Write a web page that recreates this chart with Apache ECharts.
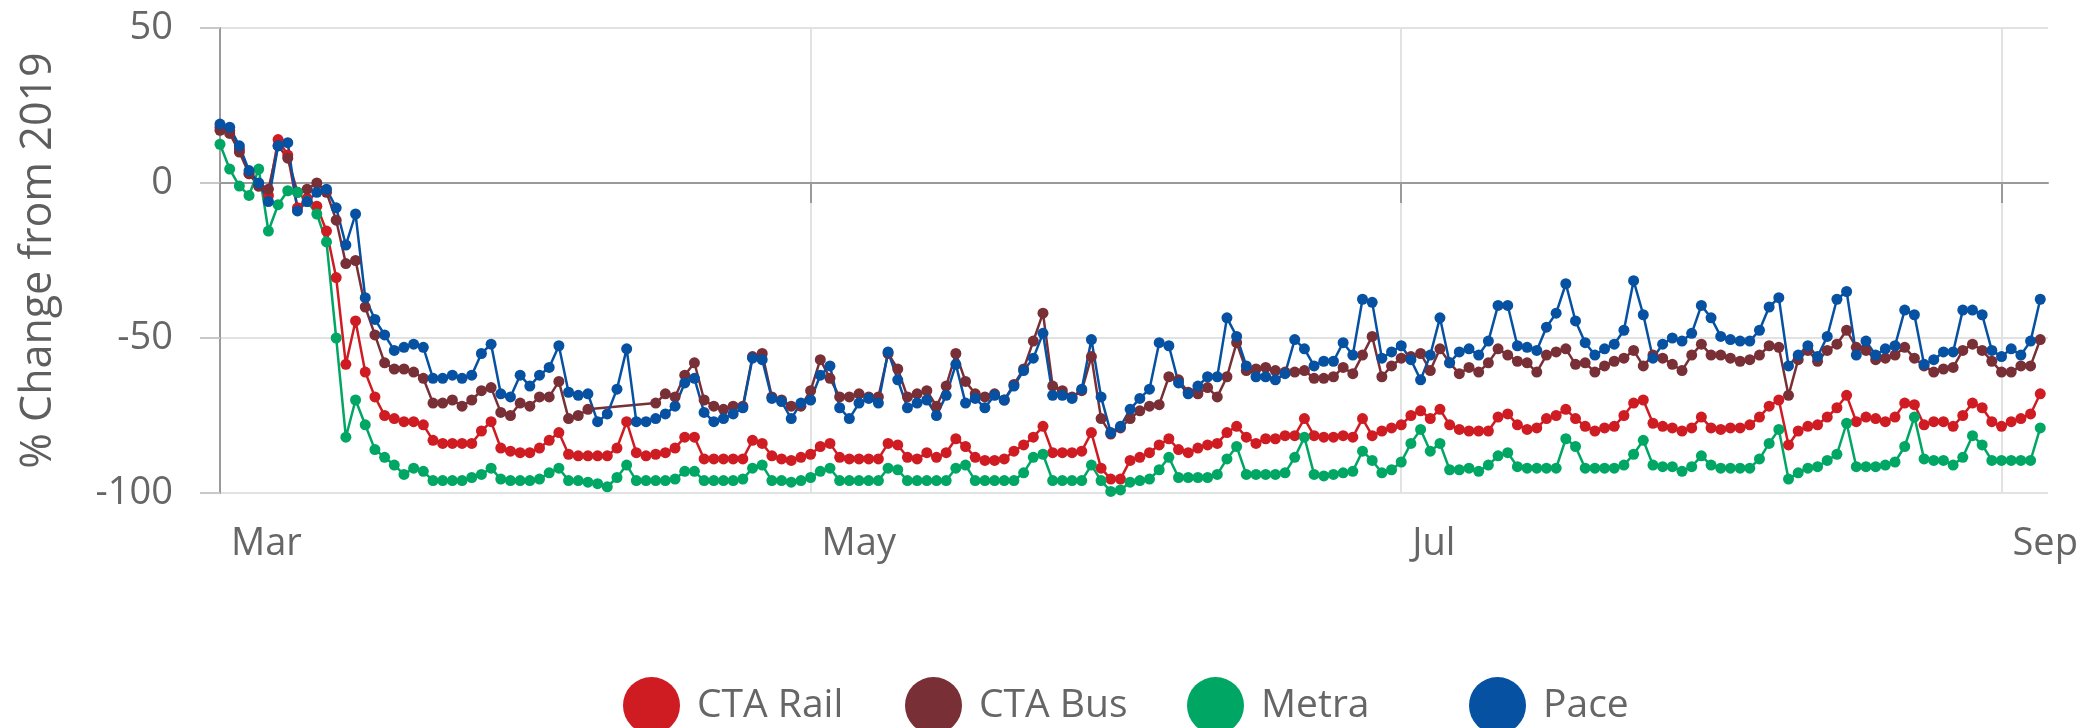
<!DOCTYPE html>
<html>
<head>
<meta charset="utf-8">
<script src="https://cdn.jsdelivr.net/npm/echarts@6/dist/echarts.min.js"></script>
<style>
  html, body { margin: 0; padding: 0; background: #fff; }
  #chart { width: 2086px; height: 728px; }
</style>
</head>
<body>
<div id="chart"></div>
<script>
// daily % change from 2019, one value per day; day 0 = Mar 1 2020
var tickDays = [0, 61, 122, 184];
var tickLabels = ['Mar', 'May', 'Jul', 'Sep'];
var seriesNames = ['CTA Rail', 'CTA Bus', 'Metra', 'Pace'];

var ctaRail = [
  18,17,11,3,-1,-4,14,9,-8,-5, -7.5,-15.5,-30.5,-58.5,-44.5,-61,-69,-75,-76,-77,
  -77,-78,-83,-84,-84,-84,-84,-80,-77,-85.5, -86.5,
  -87,-87,-85.5,-83,-80.5,-87.5,-88,-88,-88,-88, -85.5,-77,-87,-88,-87.5,-87,-85.5,-82,-82,-89,
  -89,-89,-89,-89,-83,-84,-88,-89,-89.5,-88.5, -87.5,
  -85,-84,-88.5,-89,-89,-89,-89,-84,-84.5,-88.5, -89,-87,-88.5,-87,-82.5,-85,-88.5,-89.5,-89.5,-89,
  -86.5,-84.5,-82,-78.5,-87,-87,-87,-86.5,-80.5,-92, -95.5,
  -95.5,-89.5,-88.5,-87,-84.5,-82.5,-86,-87,-85.5,-84.5, -84,-80.5,-78.5,-82,-84,-82.5,-82.5,-81.5,-81.5,-76,
  -81.5,-82,-82,-81.5,-82,-76,-81.5,-80,-79,-78,
  -75,-73.5,-76,-73,-78,-79.5,-80,-80,-80,-75.5, -74.5,-78,-79.5,-79,-76,-75,-73,-76,-78.5,-80,
  -79,-78.5,-75,-71,-70,-77.5,-78.5,-79,-80,-79, -75.5,-79,
  -79.5,-79,-79,-78,-75.5,-72,-70,-84.5,-80,-78.5, -78,-75.5,-72.5,-68.5,-77,-75.5,-76,-77,-75.5,-71,
  -71.5,-78,-77,-77,-78.5,-75,-71,-72.5,-77,-78.5, -77,-76,-74.5,-68
];

var ctaBus = [
  17,16,10,3,-1,-2,12,8,-3,-2, 0,-3,-12,-26,-25,-40,-49,-58,-60,-60,
  -61,-63,-71,-71,-70,-72,-70,-67,-66,-74, -75,
  -71,-72,-69,-69,-64,-76,-75,-73,null,null, null,null,null,null,-71,-68,-69,-62,-58,-70,
  -72,-73,-72,-72,-56,-55,-69,-70,-72,-72, -67,
  -57,-63,-69,-69,-68,-69,-69,-55,-60,-69, -68,-67,-72,-65.5,-55,-64,-68,-69,-68,-70,
  -65,-60,-51,-42,-65.5,-67,-69,-67,-56,-76, -81,
  -79,-76,-73.5,-72,-71.5,-62.5,-63.5,-67.5,-68,-66, -69,-62.5,-51.5,-60.5,-60,-59.5,-60.5,-61,-61,-60.5,
  -63,-63,-62.5,-59.5,-61.5,-55.5,-49.5,-62.5,-59,-56.5,
  -56,-55,-60.5,-53.5,-58,-61.5,-59.5,-61,-58,-53.5, -55.5,-57.5,-58,-61,-55.5,-54.5,-53.5,-58.5,-58,-61,
  -59,-57.5,-56.5,-54,-59,-55.5,-56.5,-58.5,-60.5,-55.5, -52,-55.5,
  -55.5,-56.5,-57.5,-57,-55.5,-52.5,-53,-68.5,-57,-54, -57.5,-54,-52,-47.5,-53,-54,-57,-56.5,-55.5,-53,
  -56.5,-59,-61,-60,-59.5,-54,-52,-54,-57.5,-61, -61,-59,-59,-50.5
];

var metra = [
  12.5,4.5,-1,-4,4.5,-15.5,-7,-2.5,-3,-6, -10,-19,-50,-82,-70,-78,-86,-88.5,-91,-94,
  -92,-93,-96,-96,-96,-96,-95,-94,-92,-95.5, -96,
  -96,-96,-95.5,-93.5,-92,-96,-96,-96.5,-97,-98, -95,-91,-96,-96,-96,-96,-95.5,-93,-93,-96,
  -96,-96,-96,-95.5,-92,-91,-96,-96,-96.5,-96, -95,
  -93,-92,-96,-96,-96,-96,-96,-92,-92.5,-96, -96,-96,-96,-96,-92,-91,-96,-96,-96,-96,
  -96,-93.5,-88.5,-87.5,-96,-96,-96,-96,-91,-96, -99.5,
  -99,-96.5,-96,-95.5,-92.5,-88.5,-95,-95,-95,-95, -94,-89,-85,-94,-94,-94,-94,-93.5,-88.5,-82,
  -94,-94.5,-94,-93.5,-93,-86.5,-89.5,-93.5,-92.5,-90,
  -84,-79.5,-86.5,-84,-92.5,-92.5,-92,-93,-91,-88, -87,-91.5,-92,-92,-92,-92,-82.5,-85,-92,-92,
  -92,-92,-91,-87.5,-83,-91,-91.5,-91.5,-93,-91.5, -88,-91,
  -92,-92,-92,-92,-89,-84,-79.5,-95.5,-93.5,-92, -91.5,-89.5,-87.5,-77.5,-91.5,-91.5,-91.5,-91,-90,-85,
  -75.5,-89,-89.5,-89.5,-91,-88.5,-81.5,-84.5,-89.5,-89.5, -89.5,-89.5,-89.5,-79
];

var pace = [
  19,18,12,4,0,-6,12,13,-9,-6, -3,-2,-8,-20,-10,-37,-44,-49,-54,-53,
  -52,-53,-63,-63,-62,-63,-62,-55,-52,-68, -69,
  -62,-65.5,-62,-59.5,-52.5,-67.5,-68.5,-68,-77,-74.5, -66.5,-53.5,-77,-77,-76,-74.5,-72,-64.5,-63,-74,
  -77,-76,-74.5,-72.5,-56.5,-57,-69.5,-70.5,-76,-71, -70,
  -62,-59,-72.5,-76,-71,-69.5,-71,-54.5,-63.5,-72.5, -71,-70,-75,-68.5,-58.5,-71,-69.5,-72.5,-68.5,-70,
  -65.5,-60.5,-56.5,-48.5,-68.5,-68.5,-69.5,-66.5,-50.5,-69, -80.5,
  -78.5,-73,-69.5,-66.5,-51.5,-52.5,-64.5,-68,-65.5,-62.5, -62.5,-43.5,-49.5,-59,-62.5,-62.5,-63.5,-61.5,-50.5,-53.5,
  -59,-57.5,-57.5,-51.5,-55.5,-37.5,-38.5,-56.5,-54.5,-52.5,
  -57,-63.5,-55.5,-43.5,-58,-54.5,-53.5,-55.5,-51,-39.5, -39.5,-52.5,-53,-54,-46.5,-42,-32.5,-44.5,-51.5,-55.5,
  -53.5,-52,-47.5,-31.5,-42.5,-56.5,-52,-50,-51,-48.5, -39.5,-43.5,
  -49.5,-50.5,-51,-51,-47.5,-40,-37,-59,-55.5,-52.5, -56,-49.5,-37.5,-35,-55.5,-51,-55.5,-53.5,-52.5,-41,
  -42.5,-58.5,-57,-54.5,-54.5,-41,-41,-42.5,-54,-56, -53.5,-55.5,-51,-37.5
];

var colors = ['#cf1b22', '#782f36', '#00a663', '#0651a1'];
var legendLeft = [618, 900, 1182, 1464];
var axisFont = 'Open Sans';

function pairUp(vals) {
  return vals.map(function (v, i) { return [i, v]; });
}

var allValues = [ctaRail, ctaBus, metra, pace];

var myChart = echarts.init(document.getElementById('chart'));
var option = {
  animation: false,
  textStyle: { fontFamily: axisFont },
  grid: { left: 220, right: 38, top: 28, bottom: 235 },
  legend: seriesNames.map(function (name, i) {
    return {
      data: [name],
      left: legendLeft[i],
      top: 672,
      icon: 'circle',
      itemWidth: 57,
      itemHeight: 57,
      selectedMode: false,
      textStyle: { fontSize: 39, color: '#666', fontFamily: axisFont, padding: [0, 0, 0, 12] }
    };
  }),
  xAxis: {
    type: 'value',
    min: 0,
    max: 188.8,
    axisLine: { lineStyle: { color: '#9a9a9a', width: 2 } },
    axisTick: { show: true, customValues: tickDays, length: 20, lineStyle: { color: '#9a9a9a', width: 2 } },
    axisLabel: {
      customValues: tickDays,
      formatter: function (v) { return tickLabels[tickDays.indexOf(Math.round(v))] || ''; },
      align: 'left',
      padding: [0, 0, 0, 11],
      margin: 32,
      fontSize: 38,
      color: '#666'
    },
    splitLine: { show: true, lineStyle: { color: '#e2e2e2', width: 2 } }
  },
  yAxis: {
    type: 'value',
    min: -100,
    max: 50,
    interval: 50,
    name: '% Change from 2019',
    nameLocation: 'middle',
    nameGap: 160,
    nameTextStyle: { fontSize: 43, color: '#5e5e5e', fontFamily: axisFont },
    axisLine: { show: true, lineStyle: { color: '#9a9a9a', width: 2 } },
    axisTick: { show: true, length: 20, lineStyle: { color: '#c8c8c8', width: 2 } },
    axisLabel: { margin: 47, fontSize: 38, color: '#666' },
    splitLine: { lineStyle: { color: '#e2e2e2', width: 2 } }
  },
  series: seriesNames.map(function (name, i) {
    return {
      name: name,
      type: 'line',
      data: pairUp(allValues[i]),
      connectNulls: true,
      symbol: 'circle',
      symbolSize: 11,
      showAllSymbol: true,
      lineStyle: { width: 2.5, color: colors[i] },
      itemStyle: { color: colors[i] },
      emphasis: { disabled: true }
    };
  })
};
if (option && typeof option === 'object') {
  myChart.setOption(option, true);
}
</script>
</body>
</html>
